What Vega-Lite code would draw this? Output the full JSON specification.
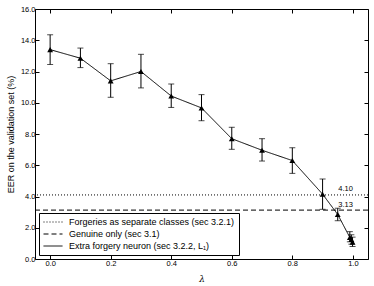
{
  "$schema": "https://vega.github.io/schema/vega-lite/v6.json",
  "width": 333,
  "height": 250,
  "autosize": {"type": "none"},
  "padding": {"left": 35, "top": 9, "right": 6, "bottom": 27},
  "background": "white",
  "config": {
    "view": {"stroke": "black", "strokeWidth": 1},
    "font": "Liberation Sans",
    "axis": {
      "grid": false,
      "domain": false,
      "tickColor": "black",
      "tickSize": -4,
      "labelPadding": 4,
      "labelFont": "Liberation Sans",
      "labelFontSize": 7.5,
      "labelColor": "black",
      "titleFont": "Liberation Sans",
      "titleFontWeight": "normal",
      "titleColor": "black"
    },
    "legend": {
      "orient": "bottom-left",
      "offset": 4,
      "strokeColor": "black",
      "fillColor": "white",
      "padding": 4,
      "symbolType": "stroke",
      "symbolSize": 361,
      "symbolStrokeWidth": 1,
      "symbolStrokeColor": "black",
      "clipHeight": 10,
      "labelFont": "Liberation Sans",
      "labelFontSize": 9,
      "labelColor": "black",
      "labelLimit": 0,
      "labelOffset": 6,
      "rowPadding": 2,
      "cornerRadius": 0
    }
  },
  "datasets": {
    "main": [
      {"lambda": 0.0, "eer": 13.4, "lo": 12.45, "hi": 14.35},
      {"lambda": 0.1, "eer": 12.85, "lo": 12.25, "hi": 13.5},
      {"lambda": 0.2, "eer": 11.4, "lo": 10.35, "hi": 12.5},
      {"lambda": 0.3, "eer": 12.0, "lo": 10.95, "hi": 13.1},
      {"lambda": 0.4, "eer": 10.43, "lo": 9.7, "hi": 11.2},
      {"lambda": 0.5, "eer": 9.67, "lo": 8.85, "hi": 10.52},
      {"lambda": 0.6, "eer": 7.7, "lo": 7.02, "hi": 8.43},
      {"lambda": 0.7, "eer": 6.96, "lo": 6.27, "hi": 7.7},
      {"lambda": 0.8, "eer": 6.3, "lo": 5.48, "hi": 7.12},
      {"lambda": 0.9, "eer": 4.15, "lo": 3.18, "hi": 5.12},
      {"lambda": 0.95, "eer": 2.85, "lo": 2.45, "hi": 3.25},
      {"lambda": 0.99, "eer": 1.38, "lo": 1.1, "hi": 1.75},
      {"lambda": 0.995, "eer": 1.25, "lo": 0.95, "hi": 1.55},
      {"lambda": 0.999, "eer": 1.08, "lo": 0.8, "hi": 1.4}
    ],
    "refs": [
      {"series": "Forgeries as separate classes (sec 3.2.1)", "value": 4.10, "label": "4.10", "pos": 1.0},
      {"series": "Genuine only (sec 3.1)", "value": 3.13, "label": "3.13", "pos": 1.0}
    ]
  },
  "resolve": {"axis": {"x": "independent", "y": "independent"}},
  "layer": [
    {
      "data": {"name": "refs"},
      "mark": {"type": "rule", "color": "black", "strokeWidth": 1},
      "encoding": {
        "y": {"field": "value", "type": "quantitative", "scale": {"domain": [0, 16], "nice": false}, "axis": null},
        "strokeDash": {
          "field": "series",
          "type": "nominal",
          "scale": {
            "domain": ["Forgeries as separate classes (sec 3.2.1)", "Genuine only (sec 3.1)", "Extra forgery neuron (sec 3.2.2, L₁)"],
            "range": [[1, 2], [5, 3], [1, 0]]
          },
          "legend": {
            "title": null,
            "symbolType": "stroke",
            "encode": {
              "symbols": {
                "update": {
                  "stroke": {"value": "black"},
                  "strokeWidth": {"value": 1},
                  "opacity": {"value": 1},
                  "size": {"value": 361},
                  "shape": {"value": "stroke"}
                }
              }
            }
          }
        }
      }
    },
    {
      "data": {"name": "refs"},
      "mark": {"type": "text", "align": "right", "baseline": "bottom", "dy": -1.5, "fontSize": 7.5, "color": "#000000", "fill": "#000000", "opacity": 1},
      "encoding": {
        "x": {"field": "pos", "type": "quantitative", "scale": {"domain": [-0.05, 1.05], "nice": false, "zero": false}, "axis": null},
        "y": {"field": "value", "type": "quantitative", "scale": {"domain": [0, 16], "nice": false}, "axis": null},
        "text": {"field": "label"}
      }
    },
    {
      "data": {"name": "main"},
      "mark": {"type": "errorbar", "ticks": {"size": 6, "color": "black", "strokeWidth": 1}, "rule": {"color": "black", "strokeWidth": 1}},
      "encoding": {
        "x": {"field": "lambda", "type": "quantitative", "scale": {"domain": [-0.05, 1.05], "nice": false, "zero": false},
              "axis": {"orient": "top", "values": [0, 0.2, 0.4, 0.6, 0.8, 1.0], "labels": false, "title": null}},
        "y": {"field": "lo", "type": "quantitative", "scale": {"domain": [0, 16], "nice": false},
              "axis": {"orient": "right", "values": [0, 2, 4, 6, 8, 10, 12, 14, 16], "labels": false, "title": null}},
        "y2": {"field": "hi"}
      }
    },
    {
      "data": {"name": "main"},
      "mark": {"type": "line", "color": "black", "strokeWidth": 1,
               "point": {"shape": "triangle-up", "filled": true, "size": 34, "color": "black"}},
      "encoding": {
        "x": {"field": "lambda", "type": "quantitative", "scale": {"domain": [-0.05, 1.05], "nice": false, "zero": false},
              "axis": {"orient": "bottom", "values": [0, 0.2, 0.4, 0.6, 0.8, 1.0], "format": ".1f",
                       "title": "λ", "titleFont": "DejaVu Serif", "titleFontStyle": "italic", "titleFontSize": 9, "titlePadding": 8}},
        "y": {"field": "eer", "type": "quantitative", "scale": {"domain": [0, 16], "nice": false},
              "axis": {"orient": "left", "values": [0, 2, 4, 6, 8, 10, 12, 14, 16], "format": ".1f",
                       "title": "EER on the validation set (%)", "titleFontSize": 9, "titlePadding": 5}},
        "strokeDash": {"datum": "Extra forgery neuron (sec 3.2.2, L₁)", "type": "nominal"}
      }
    }
  ]
}
